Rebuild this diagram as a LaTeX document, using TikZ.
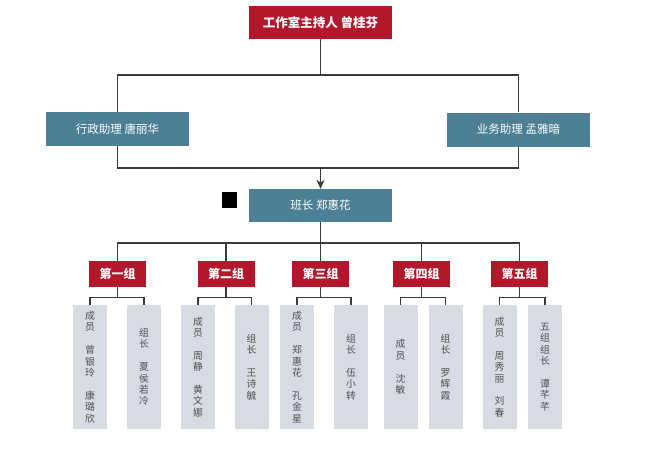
\documentclass[tikz,border=0pt]{standalone}
\usepackage{fontspec}
\setmainfont{Noto Sans CJK SC}
\usetikzlibrary{arrows.meta}
\definecolor{redc}{HTML}{B3172C}
\definecolor{tealc}{HTML}{4D8095}
\definecolor{grayc}{HTML}{D8DBE2}
\definecolor{linec}{HTML}{3A3A3A}
\definecolor{memtext}{HTML}{505050}
\begin{document}
\begin{tikzpicture}[x=1pt,y=-1pt,
  topbox/.style={fill=redc,text=white,minimum width=143pt,minimum height=33pt,inner sep=0pt,font=\fontsize{12.5}{14}\selectfont\bfseries},
  tealbox/.style={fill=tealc,text=white,minimum width=143pt,minimum height=34pt,inner sep=0pt,font=\fontsize{11.5}{13}\selectfont},
  grpbox/.style={fill=redc,text=white,minimum width=57pt,minimum height=26pt,inner sep=0pt,font=\fontsize{12}{13}\selectfont\bfseries},
  membox/.style={fill=grayc,text=memtext,minimum width=34pt,minimum height=124pt,inner sep=0pt,align=center,font=\fontsize{9.8}{11.4}\selectfont},
  conn/.style={draw=linec,line width=1.4pt}]
\useasboundingbox (0,0) rectangle (658,451);
\fill[white] (0,0) rectangle (658,451);

\node[topbox] (top) at (320.5,22.5) {工作室主持人 曾桂芬};
\node[tealbox] (admin) at (117.5,129) {行政助理 唐丽华};
\node[tealbox] (biz) at (518.5,129.5) {业务助理 孟雅暗};
\node[tealbox,minimum height=33pt] (ban) at (320.5,205.5) {班长 郑惠花};
\fill[black] (222,192) rectangle (237,208);

\node[grpbox] (g1) at (117.5,274) {第一组};
\node[grpbox] (g2) at (226,274) {第二组};
\node[grpbox] (g3) at (320.5,274) {第三组};
\node[grpbox] (g4) at (421.5,274) {第四组};
\node[grpbox] (g5) at (519.5,274) {第五组};

\node[membox] (m1) at (90,367) {成\\员\\ \\曾\\银\\玲\\ \\康\\璐\\欣};
\node[membox] (m2) at (144,367) {组\\长\\ \\夏\\侯\\若\\冷};
\node[membox] (m3) at (198,367) {成\\员\\ \\周\\静\\ \\黄\\文\\娜};
\node[membox] (m4) at (251.5,367) {组\\长\\ \\王\\诗\\毓};
\node[membox] (m5) at (297,367) {成\\员\\ \\郑\\惠\\花\\ \\孔\\金\\星};
\node[membox] (m6) at (351,367) {组\\长\\ \\伍\\小\\转};
\node[membox] (m7) at (400.5,367) {成\\员\\ \\沈\\敏};
\node[membox] (m8) at (445.5,367) {组\\长\\ \\罗\\辉\\霞};
\node[membox] (m9) at (499.5,367) {成\\员\\ \\周\\秀\\丽\\ \\刘\\春};
\node[membox] (m10) at (545,367) {五\\组\\组\\长\\ \\谭\\芊\\芊};

% top level connectors
\coordinate (j1) at (320.5,75);
\draw[conn] (top.south) -- (j1);
\draw[conn] (admin.north) |- (j1) -| (biz.north);
\coordinate (j2) at (320.5,168);
\draw[conn] (admin.south) |- (j2) -| (biz.south);
\draw[conn,-{Stealth[length=9pt,width=8pt]}] (j2) -- (ban.north);

% ban to groups
\coordinate (j3) at (320.5,243);
\draw[conn] (ban.south) -- (j3);
\draw[conn] (g1.north) |- (j3) -| (g5.north);
\draw[conn] (g2.north) -- (g2.north |- j3);
\draw[conn] (g3.north) -- (j3);
\draw[conn] (g4.north) -- (g4.north |- j3);

% groups to members
\foreach \g/\a/\b in {g1/m1/m2,g2/m3/m4,g3/m5/m6,g4/m7/m8,g5/m9/m10}{
  \draw[conn] (\g.south) -- ++(0,10) coordinate (k\g);
  \draw[conn] (\a.north) |- (k\g) -| (\b.north);
}
\end{tikzpicture}
\end{document}
